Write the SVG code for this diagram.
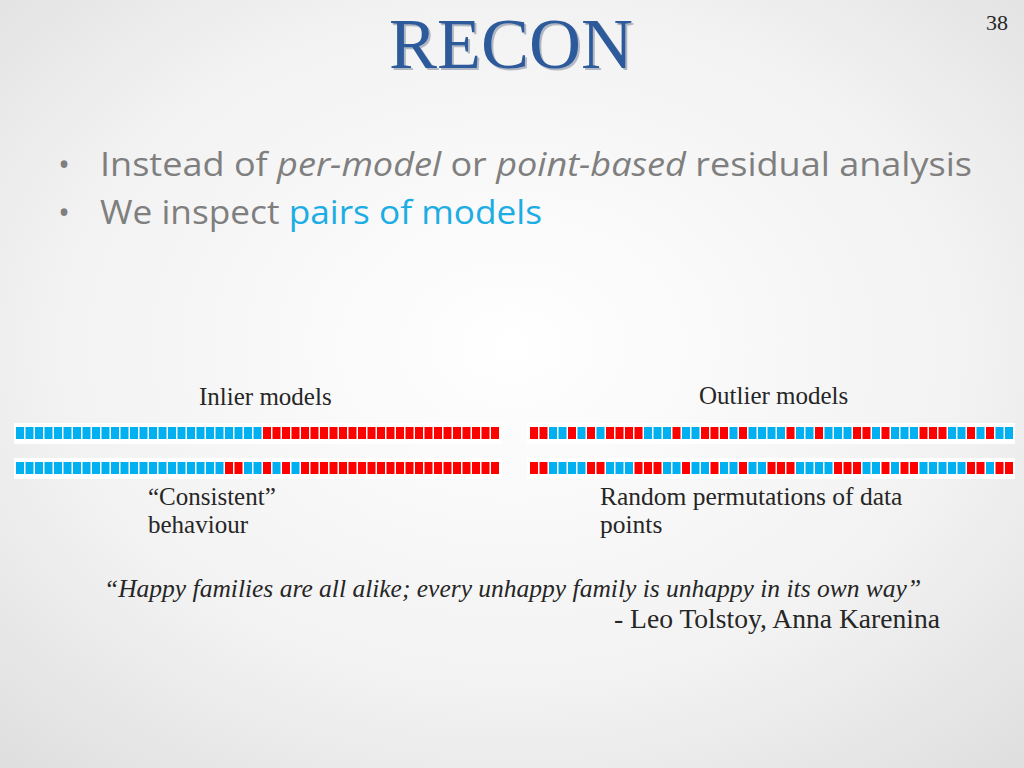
<svg xmlns="http://www.w3.org/2000/svg" xmlns:xlink="http://www.w3.org/1999/xlink" width="1024" height="768" viewBox="0 0 1024 768">
<style>
.serif{font-family:"Liberation Serif","Times New Roman",serif;fill:#262626}
.sans{font-family:"Open Sans","Liberation Sans",sans-serif;fill:#7f7f7f}
.band{fill:#ffffff}
</style>
<defs>
<radialGradient id="bg" cx="50%" cy="45%" r="75%">
<stop offset="0" stop-color="#ffffff"/>
<stop offset="0.6" stop-color="#f2f2f2"/>
<stop offset="1" stop-color="#dedede"/>
</radialGradient>
<rect id="cb" width="8" height="12" fill="#00B0F0"/>
<rect id="cr" width="8" height="12" fill="#FF0000"/>
</defs>
<rect width="1024" height="768" fill="url(#bg)"/>
<g id="title">
<text x="513" y="70" text-anchor="middle" font-family="Liberation Serif, serif" font-size="72" fill="#1a2f55" opacity="0.3">RECON</text>
<text x="511" y="68" text-anchor="middle" font-family="Liberation Serif, serif" font-size="72" fill="#2D5A9B">RECON</text>
</g>
<text id="page" x="1008" y="30" text-anchor="end" class="serif" font-size="22">38</text>
<g id="bullets">
<text x="58" y="176" class="sans" font-size="32">•</text>
<text x="100" y="176" class="sans" font-size="32" textLength="872" lengthAdjust="spacingAndGlyphs">Instead of <tspan font-style="italic">per-model</tspan> or <tspan font-style="italic">point-based</tspan> residual analysis</text>
<text x="58" y="224" class="sans" font-size="32">•</text>
<text x="100" y="224" class="sans" font-size="32" textLength="442" lengthAdjust="spacingAndGlyphs">We inspect <tspan fill="#1CADE4">pairs of models</tspan></text>
</g>
<g id="inlier-models">
<text x="199" y="405" class="serif" font-size="25">Inlier models</text>
<rect class="band" x="14" y="423" width="488" height="21"/>
<rect class="band" x="14" y="458" width="488" height="21"/>
<g transform="translate(16,427)">
<use xlink:href="#cb" x="0"/><use xlink:href="#cb" x="9.5"/><use xlink:href="#cb" x="19"/><use xlink:href="#cb" x="28.5"/><use xlink:href="#cb" x="38"/><use xlink:href="#cb" x="47.5"/><use xlink:href="#cb" x="57"/><use xlink:href="#cb" x="66.5"/><use xlink:href="#cb" x="76"/><use xlink:href="#cb" x="85.5"/><use xlink:href="#cb" x="95"/><use xlink:href="#cb" x="104.5"/><use xlink:href="#cb" x="114"/><use xlink:href="#cb" x="123.5"/><use xlink:href="#cb" x="133"/><use xlink:href="#cb" x="142.5"/><use xlink:href="#cb" x="152"/><use xlink:href="#cb" x="161.5"/><use xlink:href="#cb" x="171"/><use xlink:href="#cb" x="180.5"/><use xlink:href="#cb" x="190"/><use xlink:href="#cb" x="199.5"/><use xlink:href="#cb" x="209"/><use xlink:href="#cb" x="218.5"/><use xlink:href="#cb" x="228"/><use xlink:href="#cb" x="237.5"/>
<use xlink:href="#cr" x="247"/><use xlink:href="#cr" x="256.5"/><use xlink:href="#cr" x="266"/><use xlink:href="#cr" x="275.5"/><use xlink:href="#cr" x="285"/><use xlink:href="#cr" x="294.5"/><use xlink:href="#cr" x="304"/><use xlink:href="#cr" x="313.5"/><use xlink:href="#cr" x="323"/><use xlink:href="#cr" x="332.5"/><use xlink:href="#cr" x="342"/><use xlink:href="#cr" x="351.5"/><use xlink:href="#cr" x="361"/><use xlink:href="#cr" x="370.5"/><use xlink:href="#cr" x="380"/><use xlink:href="#cr" x="389.5"/><use xlink:href="#cr" x="399"/><use xlink:href="#cr" x="408.5"/><use xlink:href="#cr" x="418"/><use xlink:href="#cr" x="427.5"/><use xlink:href="#cr" x="437"/><use xlink:href="#cr" x="446.5"/><use xlink:href="#cr" x="456"/><use xlink:href="#cr" x="465.5"/><use xlink:href="#cr" x="475"/>
</g>
<g transform="translate(16,462)">
<use xlink:href="#cb" x="0"/><use xlink:href="#cb" x="9.5"/><use xlink:href="#cb" x="19"/><use xlink:href="#cb" x="28.5"/><use xlink:href="#cb" x="38"/><use xlink:href="#cb" x="47.5"/><use xlink:href="#cb" x="57"/><use xlink:href="#cb" x="66.5"/><use xlink:href="#cb" x="76"/><use xlink:href="#cb" x="85.5"/><use xlink:href="#cb" x="95"/><use xlink:href="#cb" x="104.5"/><use xlink:href="#cb" x="114"/><use xlink:href="#cb" x="123.5"/><use xlink:href="#cb" x="133"/><use xlink:href="#cb" x="142.5"/><use xlink:href="#cb" x="152"/><use xlink:href="#cb" x="161.5"/><use xlink:href="#cb" x="171"/><use xlink:href="#cb" x="180.5"/><use xlink:href="#cb" x="190"/><use xlink:href="#cb" x="199.5"/>
<use xlink:href="#cr" x="209"/><use xlink:href="#cr" x="218.5"/><use xlink:href="#cb" x="228"/><use xlink:href="#cb" x="237.5"/><use xlink:href="#cr" x="247"/><use xlink:href="#cb" x="256.5"/><use xlink:href="#cr" x="266"/><use xlink:href="#cb" x="275.5"/>
<use xlink:href="#cr" x="285"/><use xlink:href="#cr" x="294.5"/><use xlink:href="#cr" x="304"/><use xlink:href="#cr" x="313.5"/><use xlink:href="#cr" x="323"/><use xlink:href="#cr" x="332.5"/><use xlink:href="#cr" x="342"/><use xlink:href="#cr" x="351.5"/><use xlink:href="#cr" x="361"/><use xlink:href="#cr" x="370.5"/><use xlink:href="#cr" x="380"/><use xlink:href="#cr" x="389.5"/><use xlink:href="#cr" x="399"/><use xlink:href="#cr" x="408.5"/><use xlink:href="#cr" x="418"/><use xlink:href="#cr" x="427.5"/><use xlink:href="#cr" x="437"/><use xlink:href="#cr" x="446.5"/><use xlink:href="#cr" x="456"/><use xlink:href="#cr" x="465.5"/><use xlink:href="#cr" x="475"/>
</g>
<text x="148" y="505" class="serif" font-size="25">“Consistent”</text>
<text x="148" y="533" class="serif" font-size="25">behaviour</text>
</g>
<g id="outlier-models">
<text x="699" y="404" class="serif" font-size="25">Outlier models</text>
<rect class="band" x="527" y="423" width="488" height="21"/>
<rect class="band" x="527" y="458" width="488" height="21"/>
<g transform="translate(530,427)">
<use xlink:href="#cr" x="0"/><use xlink:href="#cr" x="9.5"/><use xlink:href="#cb" x="19"/><use xlink:href="#cb" x="28.5"/><use xlink:href="#cr" x="38"/><use xlink:href="#cb" x="47.5"/><use xlink:href="#cr" x="57"/><use xlink:href="#cb" x="66.5"/><use xlink:href="#cr" x="76"/><use xlink:href="#cr" x="85.5"/><use xlink:href="#cr" x="95"/><use xlink:href="#cr" x="104.5"/><use xlink:href="#cb" x="114"/><use xlink:href="#cb" x="123.5"/><use xlink:href="#cb" x="133"/><use xlink:href="#cr" x="142.5"/><use xlink:href="#cb" x="152"/><use xlink:href="#cb" x="161.5"/><use xlink:href="#cr" x="171"/><use xlink:href="#cr" x="180.5"/><use xlink:href="#cr" x="190"/><use xlink:href="#cb" x="199.5"/><use xlink:href="#cr" x="209"/><use xlink:href="#cb" x="218.5"/><use xlink:href="#cb" x="228"/><use xlink:href="#cb" x="237.5"/><use xlink:href="#cb" x="247"/><use xlink:href="#cr" x="256.5"/><use xlink:href="#cb" x="266"/><use xlink:href="#cb" x="275.5"/><use xlink:href="#cr" x="285"/><use xlink:href="#cb" x="294.5"/><use xlink:href="#cb" x="304"/><use xlink:href="#cb" x="313.5"/><use xlink:href="#cr" x="323"/><use xlink:href="#cr" x="332.5"/><use xlink:href="#cb" x="342"/><use xlink:href="#cr" x="351.5"/><use xlink:href="#cb" x="361"/><use xlink:href="#cb" x="370.5"/><use xlink:href="#cb" x="380"/><use xlink:href="#cr" x="389.5"/><use xlink:href="#cr" x="399"/><use xlink:href="#cr" x="408.5"/><use xlink:href="#cb" x="418"/><use xlink:href="#cb" x="427.5"/><use xlink:href="#cr" x="437"/><use xlink:href="#cb" x="446.5"/><use xlink:href="#cr" x="456"/><use xlink:href="#cb" x="465.5"/><use xlink:href="#cb" x="475"/>
</g>
<g transform="translate(530,462)">
<use xlink:href="#cr" x="0"/><use xlink:href="#cr" x="9.5"/><use xlink:href="#cb" x="19"/><use xlink:href="#cb" x="28.5"/><use xlink:href="#cb" x="38"/><use xlink:href="#cb" x="47.5"/><use xlink:href="#cr" x="57"/><use xlink:href="#cr" x="66.5"/><use xlink:href="#cb" x="76"/><use xlink:href="#cb" x="85.5"/><use xlink:href="#cb" x="95"/><use xlink:href="#cr" x="104.5"/><use xlink:href="#cr" x="114"/><use xlink:href="#cr" x="123.5"/><use xlink:href="#cb" x="133"/><use xlink:href="#cb" x="142.5"/><use xlink:href="#cr" x="152"/><use xlink:href="#cb" x="161.5"/><use xlink:href="#cb" x="171"/><use xlink:href="#cr" x="180.5"/><use xlink:href="#cb" x="190"/><use xlink:href="#cb" x="199.5"/><use xlink:href="#cr" x="209"/><use xlink:href="#cb" x="218.5"/><use xlink:href="#cb" x="228"/><use xlink:href="#cr" x="237.5"/><use xlink:href="#cr" x="247"/><use xlink:href="#cr" x="256.5"/><use xlink:href="#cb" x="266"/><use xlink:href="#cb" x="275.5"/><use xlink:href="#cb" x="285"/><use xlink:href="#cb" x="294.5"/><use xlink:href="#cr" x="304"/><use xlink:href="#cr" x="313.5"/><use xlink:href="#cr" x="323"/><use xlink:href="#cb" x="332.5"/><use xlink:href="#cb" x="342"/><use xlink:href="#cr" x="351.5"/><use xlink:href="#cb" x="361"/><use xlink:href="#cr" x="370.5"/><use xlink:href="#cr" x="380"/><use xlink:href="#cb" x="389.5"/><use xlink:href="#cb" x="399"/><use xlink:href="#cb" x="408.5"/><use xlink:href="#cb" x="418"/><use xlink:href="#cb" x="427.5"/><use xlink:href="#cr" x="437"/><use xlink:href="#cr" x="446.5"/><use xlink:href="#cb" x="456"/><use xlink:href="#cr" x="465.5"/><use xlink:href="#cr" x="475"/>
</g>
<text x="600" y="505" class="serif" font-size="25.5">Random permutations of data</text>
<text x="600" y="533" class="serif" font-size="25.5">points</text>
</g>
<g id="quote">
<text x="104" y="597" class="serif" font-size="25.5" font-style="italic">“Happy families are all alike; every unhappy family is unhappy in its own way”</text>
<text x="614" y="628" class="serif" font-size="27.6">- Leo Tolstoy, Anna Karenina</text>
</g>
<g id="connectors"/>
</svg>
